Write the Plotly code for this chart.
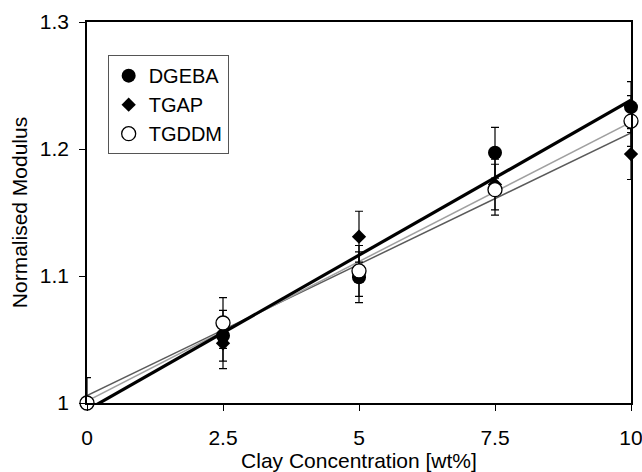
import numpy as np
import plotly.graph_objects as go

clay = [0, 2.5, 5, 7.5, 10]
dgeba = [1.000, 1.053, 1.099, 1.197, 1.233]
tgap = [1.000, 1.047, 1.131, 1.172, 1.196]
tgddm = [1.000, 1.063, 1.104, 1.168, 1.222]
dgeba_err_plus = [0.02, 0.02, 0.02, 0.02, 0.02]
dgeba_err_minus = [0.0, 0.02, 0.02, 0.02, 0.02]
tgap_err_plus = [0.0, 0.02, 0.02, 0.02, 0.02]
tgap_err_minus = [0.0, 0.02, 0.02, 0.02, 0.02]
tgddm_err_plus = [0.0, 0.02, 0.02, 0.02, 0.02]
tgddm_err_minus = [0.0, 0.02, 0.02, 0.02, 0.02]
x_ticks = [0, 2.5, 5, 7.5, 10]
x_tick_labels = ["0", "2.5", "5", "7.5", "10"]
y_ticks = [1.0, 1.1, 1.2, 1.3]
y_tick_labels = ["1", "1.1", "1.2", "1.3"]

FONT = "Liberation Sans, Arial, sans-serif"
fig = go.Figure()

# linear trendlines (least-squares fits of each series)
xfit = np.array([min(clay), max(clay)])
for ys, color, width in [(tgap, "#5a5a5a", 1.5), (tgddm, "#a0a0a0", 1.5), (dgeba, "black", 3.2)]:
    k, b = np.polyfit(clay, ys, 1)
    fig.add_trace(go.Scatter(x=xfit, y=k * xfit + b, mode="lines",
                             line=dict(color=color, width=width),
                             showlegend=False, hoverinfo="skip"))

def err(p, m):
    return dict(type="data", symmetric=False, array=p, arrayminus=m,
                color="black", thickness=1.2, width=4)

fig.add_trace(go.Scatter(x=clay, y=dgeba, mode="markers", name="DGEBA",
                         marker=dict(symbol="circle", size=14, color="black"),
                         error_y=err(dgeba_err_plus, dgeba_err_minus), cliponaxis=False))
fig.add_trace(go.Scatter(x=clay, y=tgap, mode="markers", name="TGAP",
                         marker=dict(symbol="diamond", size=11, color="black"),
                         error_y=err(tgap_err_plus, tgap_err_minus), cliponaxis=False))
fig.add_trace(go.Scatter(x=clay, y=tgddm, mode="markers", name="TGDDM",
                         marker=dict(symbol="circle", size=14, color="white",
                                     line=dict(color="black", width=1.3)),
                         error_y=err(tgddm_err_plus, tgddm_err_minus), cliponaxis=False))

fig.update_layout(
    width=642, height=472,
    margin=dict(l=87, r=11, t=22, b=69),
    paper_bgcolor="white", plot_bgcolor="white",
    font=dict(family=FONT, size=21, color="black"),
    legend=dict(x=0.038, y=0.913, xanchor="left", yanchor="top",
                bgcolor="white", bordercolor="#555", borderwidth=1,
                font=dict(size=20), itemwidth=30, tracegroupgap=0),
    showlegend=True,
)
fig.update_xaxes(range=[0, 10], tickvals=x_ticks, ticktext=x_tick_labels,
                 showgrid=False, zeroline=False, showline=True, linecolor="black",
                 linewidth=1.5, mirror=True, ticks="outside", ticklen=6, tickcolor="black",
                 ticklabelstandoff=9, automargin=False, ticklabeloverflow="allow",
                 title=dict(text="Clay Concentration [wt%]", standoff=15, font=dict(size=21)))
fig.update_yaxes(range=[1.0, 1.3], tickvals=y_ticks, ticktext=y_tick_labels,
                 showgrid=False, zeroline=False, showline=True, linecolor="black",
                 linewidth=1.5, mirror=True, ticks="outside", ticklen=6, tickcolor="black",
                 ticklabelstandoff=6, automargin=False, ticklabeloverflow="allow",
                 title=dict(text="Normalised Modulus", standoff=6, font=dict(size=21)))

fig.write_html("out.html")
